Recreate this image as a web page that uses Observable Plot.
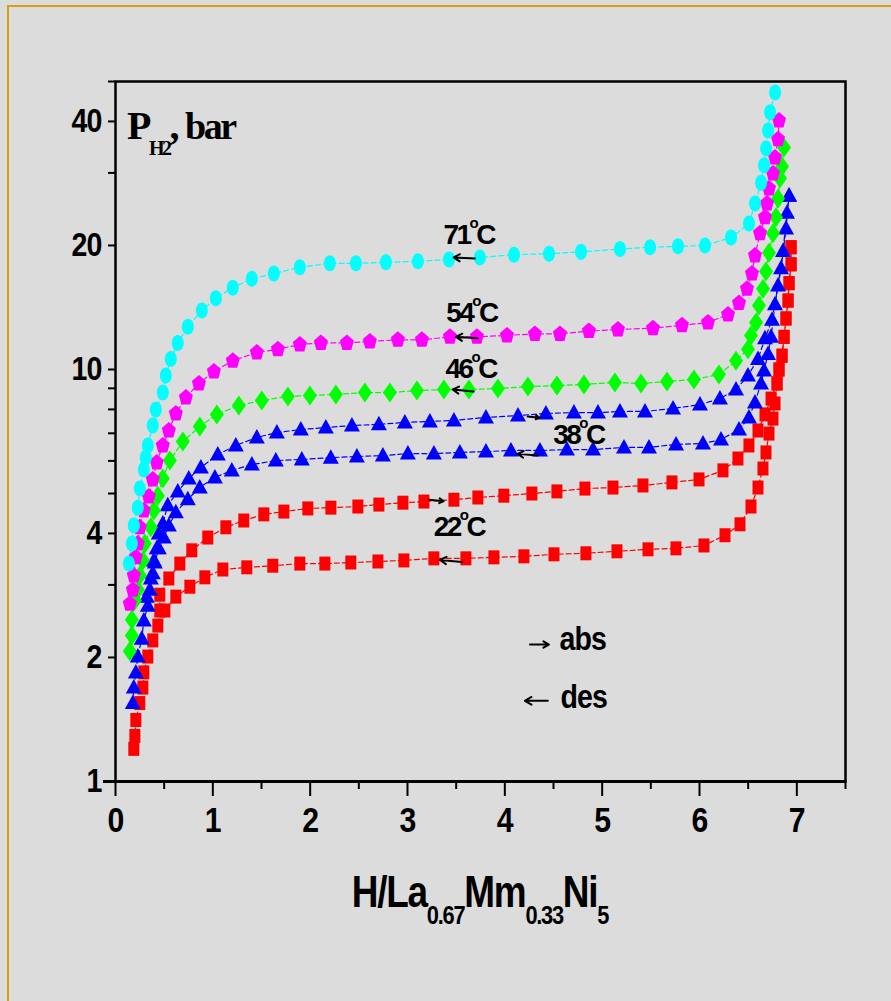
<!DOCTYPE html>
<html>
<head>
<meta charset="utf-8">
<script src="https://cdn.jsdelivr.net/npm/d3@7"></script>
<script src="https://cdn.jsdelivr.net/npm/@observablehq/plot@0.6"></script>
<style>
  html, body { margin: 0; padding: 0; }
  body { background: #dcdcdc; width: 891px; height: 1001px; overflow: hidden; position: relative; }
  #frame { position: absolute; left: 7px; top: 5px; right: -10px; bottom: -10px;
           border-left: 2px solid #d4a017; border-top: 2px solid #d4a017; }
  #chart { position: absolute; left: 0; top: 0; }
</style>
</head>
<body>
<div id="frame"></div>
<div id="chart"></div>
<script>
// ---------- data (H/La0.67Mm0.33Ni5 vs P_H2 in bar) ----------
const x71 = [0.137,0.168,0.188,0.229,0.250,0.291,0.311,0.332,0.383,0.414,0.486,0.517,0.568,0.640,0.743,0.887,1.031,1.205,1.401,1.627,1.894,2.202,2.470,2.778,3.107,3.426,3.744,4.094,4.454,4.783,5.183,5.492,5.779,6.057,6.324,6.509,6.571,6.633,6.663,6.684,6.705,6.725,6.777];
const p71 = [3.38,3.78,4.18,4.62,5.14,5.72,6.11,6.54,7.31,8.00,8.79,9.67,10.6,11.6,12.7,13.9,14.9,15.8,16.6,17.1,17.7,18.1,18.1,18.2,18.3,18.5,18.7,19.0,19.1,19.3,19.6,19.8,19.9,20.0,20.9,22.6,25.3,28.4,31.3,34.4,38.0,42.1,47.0];

const x54 = [0.147,0.178,0.188,0.209,0.229,0.250,0.291,0.342,0.383,0.424,0.486,0.548,0.620,0.723,0.857,1.011,1.205,1.452,1.668,1.894,2.110,2.377,2.613,2.901,3.148,3.436,3.713,4.022,4.309,4.566,4.864,5.162,5.522,5.820,6.087,6.293,6.406,6.488,6.539,6.570,6.622,6.673,6.694,6.714,6.755,6.776,6.807,6.817];
const p54 = [2.70,2.92,3.16,3.50,3.78,4.14,4.55,4.92,5.41,5.95,6.54,7.11,7.82,8.55,9.25,9.89,10.5,11.0,11.2,11.5,11.6,11.6,11.7,11.8,11.8,12.0,12.0,12.1,12.2,12.2,12.4,12.5,12.6,12.8,13.0,13.6,14.5,15.7,17.1,18.9,21.4,23.4,25.3,27.5,29.9,32.7,36.2,40.2];

const x46 = [0.147,0.168,0.168,0.199,0.229,0.250,0.281,0.301,0.363,0.394,0.435,0.486,0.558,0.692,0.866,1.041,1.267,1.503,1.771,1.997,2.264,2.562,2.819,3.097,3.374,3.631,3.929,4.237,4.535,4.813,5.131,5.399,5.666,5.943,6.200,6.375,6.498,6.529,6.581,6.611,6.653,6.683,6.714,6.755,6.786,6.807,6.827,6.848,6.868];
const p46 = [2.07,2.26,2.47,2.75,2.92,3.16,3.44,3.78,4.14,4.55,4.94,5.44,6.01,6.69,7.27,7.78,8.18,8.41,8.60,8.65,8.70,8.79,8.79,8.89,8.94,8.94,8.99,9.09,9.14,9.20,9.30,9.25,9.35,9.46,9.72,10.5,11.2,12.1,13.0,14.3,15.7,17.3,19.2,21.4,23.4,26.0,29.1,31.1,34.6];

const x38abs = [0.178,0.188,0.209,0.229,0.270,0.291,0.332,0.353,0.383,0.394,0.424,0.445,0.486,0.537,0.640,0.753,0.877,1.051,1.236,1.452,1.658,1.904,2.161,2.429,2.706,2.973,3.230,3.477,3.806,4.135,4.422,4.710,4.957,5.183,5.440,5.728,6.005,6.210,6.375,6.498,6.601,6.673,6.745,6.807,6.858,6.899,6.920];
const p38abs = [1.55,1.69,1.84,2.01,2.22,2.46,2.67,2.92,3.20,3.44,3.68,4.00,4.23,4.68,5.06,5.44,5.78,6.22,6.54,6.84,7.03,7.15,7.23,7.31,7.36,7.44,7.48,7.52,7.65,7.73,7.82,7.86,7.86,7.91,7.91,8.04,8.22,8.50,8.94,9.67,10.6,11.9,13.2,16.0,19.4,24.0,26.4];

const x38des = [0.322,0.363,0.404,0.445,0.496,0.548,0.620,0.743,0.866,1.021,1.195,1.401,1.647,1.914,2.212,2.480,2.747,3.004,3.271,3.538,3.806,4.063,4.361,4.638,4.906,5.224,5.481,5.759,6.036,6.221,6.406,6.508,6.570,6.632,6.663,6.704,6.735,6.776,6.838,6.889,6.920];
const p38des = [2.81,3.11,3.40,3.68,3.91,4.18,4.50,4.84,5.17,5.47,5.69,5.88,6.01,6.05,6.11,6.15,6.18,6.25,6.25,6.29,6.32,6.36,6.36,6.39,6.39,6.47,6.47,6.58,6.61,6.76,7.15,7.65,8.32,9.25,9.95,10.9,12.0,14.4,17.6,22.0,26.4];

const x22abs = [0.188,0.199,0.209,0.250,0.281,0.291,0.332,0.383,0.435,0.455,0.455,0.548,0.661,0.784,0.948,1.134,1.318,1.524,1.730,1.976,2.213,2.490,2.706,2.953,3.169,3.477,3.723,3.990,4.278,4.535,4.823,5.111,5.419,5.717,5.995,6.241,6.395,6.508,6.601,6.673,6.735,6.797,6.817,6.848,6.869,6.889,6.910,6.920,6.941,6.941];
const p22abs = [1.20,1.29,1.41,1.55,1.69,1.84,2.01,2.20,2.39,2.60,2.84,3.11,3.38,3.64,3.91,4.14,4.30,4.45,4.52,4.60,4.62,4.65,4.70,4.75,4.78,4.83,4.89,4.94,5.00,5.06,5.14,5.17,5.23,5.32,5.41,5.69,6.08,6.54,7.11,7.78,8.50,9.25,10.0,10.8,12.0,13.3,14.7,16.2,18.0,19.8];

const x22des = [0.507,0.620,0.764,0.918,1.103,1.349,1.616,1.894,2.151,2.418,2.696,2.963,3.271,3.600,3.888,4.196,4.505,4.833,5.152,5.471,5.758,6.046,6.262,6.416,6.529,6.601,6.652,6.683,6.714,6.755,6.776,6.797,6.817,6.848,6.869,6.889,6.910,6.920,6.941,6.941];
const p22des = [2.60,2.81,2.97,3.13,3.27,3.31,3.34,3.38,3.38,3.40,3.42,3.44,3.48,3.48,3.50,3.52,3.56,3.58,3.62,3.66,3.68,3.74,3.96,4.21,4.65,5.17,5.75,6.29,6.99,7.60,8.27,9.25,10.0,10.8,12.0,13.3,14.7,16.2,18.0,19.8];

// axis ticks
const xMajorTicks = [0,1,2,3,4,5,6,7];
const xMinorTicks = [0.5,1.5,2.5,3.5,4.5,5.5,6.5,7.5];
const yMajorTicks = [1,2,4,10,20,40];
const yMinorTicks = [3,5,6,7,8,9,30,50];

// temperature labels (anchor = start of text, baseline), in data units
const tempLabels = ["71","54","46","38","22"];
const tempLabelX = [3.374,3.402,3.395,4.502,3.274];
const tempLabelP = [20.1,13.0,9.49,6.58,3.93];

// direction arrows on curves (abs → right, des ← left)
const arrowX1 = [3.693,3.720,3.679,4.234,4.337,3.223,3.559];
const arrowP1 = [18.6,11.9,8.84,7.69,6.18,4.83,3.41];
const arrowX2 = [3.474,3.497,3.464,4.354,4.132,3.371,3.333];
const arrowP2 = [18.7,12.0,8.94,7.64,6.24,4.79,3.45];

// legend
const legendLabels = ["abs","des"];
const legendArrowX1 = [4.258,4.442];
const legendArrowX2 = [4.453,4.206];
const legendArrowP = [2.15,1.57];
const legendTextX = [4.566,4.577];
const legendTextP = [2.08,1.50];

// ---------- symbols ----------
const ellipseSym = {draw(ctx){ const rx=6, ry=8, k=0.5523;
  ctx.moveTo(rx,0);
  ctx.bezierCurveTo(rx, ry*k, rx*k, ry, 0, ry);
  ctx.bezierCurveTo(-rx*k, ry, -rx, ry*k, -rx, 0);
  ctx.bezierCurveTo(-rx, -ry*k, -rx*k, -ry, 0, -ry);
  ctx.bezierCurveTo(rx*k, -ry, rx, -ry*k, rx, 0);
  ctx.closePath(); }};
const pentagonSym = {draw(ctx){
  ctx.moveTo(0,-8.5); ctx.lineTo(7,-2.5); ctx.lineTo(4.5,7); ctx.lineTo(-4.5,7); ctx.lineTo(-7,-2.5); ctx.closePath(); }};
const diamondSym = {draw(ctx){
  ctx.moveTo(0,-10); ctx.lineTo(7,0); ctx.lineTo(0,10); ctx.lineTo(-7,0); ctx.closePath(); }};
const triangleSym = {draw(ctx){
  ctx.moveTo(0,-8.5); ctx.lineTo(8,6); ctx.lineTo(-8,6); ctx.closePath(); }};
const rectSym = {draw(ctx){ ctx.rect(-5.5,-7,11,14); }};

const series = [
  {xs:x22abs, ps:p22abs, color:"#ff0000", sym:rectSym},
  {xs:x22des, ps:p22des, color:"#ff0000", sym:rectSym},
  {xs:x38abs, ps:p38abs, color:"#0000ff", sym:triangleSym},
  {xs:x38des, ps:p38des, color:"#0000ff", sym:triangleSym},
  {xs:x46, ps:p46, color:"#00ff00", sym:diamondSym},
  {xs:x54, ps:p54, color:"#ff00ff", sym:pentagonSym},
  {xs:x71, ps:p71, color:"#00ffff", sym:ellipseSym}
];

const sansB = "'Liberation Sans', Arial, Helvetica, sans-serif";

const marks = [];
marks.push(Plot.axisX(xMajorTicks, {tickSize: 15, tickPadding: 10, fontSize: 36, fontWeight: "bold", fontFamily: sansB, strokeWidth: 2, label: null, tickFormat: d => String(d)}));
marks.push(Plot.axisX(xMinorTicks, {tickSize: 8, strokeWidth: 2, label: null, tickFormat: () => ""}));
marks.push(Plot.axisY(yMajorTicks, {tickSize: 7, tickPadding: 7, fontSize: 34, fontWeight: "bold", fontFamily: sansB, strokeWidth: 2, label: null, tickFormat: d => String(d)}));
marks.push(Plot.axisY(yMinorTicks, {tickSize: 7, strokeWidth: 2, label: null, tickFormat: () => ""}));
marks.push(Plot.axisY([1], {tickSize: 12, strokeWidth: 3, label: null, tickFormat: () => ""}));
marks.push(Plot.frame({stroke: "black", strokeWidth: 2.5}));
marks.push(Plot.ruleY([1], {stroke: "black", strokeWidth: 3}));

for (const s of series) {
  const rows = s.xs.map((x, i) => ({x, p: s.ps[i]}));
  marks.push(Plot.line(rows, {x: "x", y: "p", stroke: s.color, strokeWidth: 1.2, strokeDasharray: "5,3"}));
}
for (const s of series) {
  const rows = s.xs.map((x, i) => ({x, p: s.ps[i]}));
  marks.push(Plot.dot(rows, {x: "x", y: "p", fill: s.color, stroke: "none", symbol: s.sym, r: 5}));
}

const arrowRows = arrowX1.map((x1, i) => ({x1, y1: arrowP1[i], x2: arrowX2[i], y2: arrowP2[i]}));
marks.push(Plot.arrow(arrowRows, {x1: "x1", y1: "y1", x2: "x2", y2: "y2", stroke: "black", strokeWidth: 2, headLength: 7}));
const legendArrowRows = legendArrowX1.map((x1, i) => ({x1, x2: legendArrowX2[i], y: legendArrowP[i]}));
marks.push(Plot.arrow(legendArrowRows, {x1: "x1", y1: "y", x2: "x2", y2: "y", stroke: "black", strokeWidth: 2, headLength: 7}));

const plot = Plot.plot({
  width: 891, height: 1001,
  marginLeft: 115, marginRight: 46, marginTop: 81, marginBottom: 220,
  style: {background: "transparent", overflow: "visible"},
  x: {domain: [0, 7.5]},
  y: {type: "log", domain: [1, 50]},
  marks
});
document.getElementById("chart").appendChild(plot);

// ---------- text post-processing ----------
const X = plot.scale("x"), Y = plot.scale("y");
const svg = d3.select(plot);

// horizontally condense a text around its own anchor point (Arial-Narrow look)
function condense(sel, k) {
  sel.each(function () {
    const t = d3.select(this);
    const tr = t.attr("transform");
    if (tr) {
      t.attr("transform", `${tr} scale(${k},1)`);
    } else {
      const x = +t.attr("x") || 0, y = +t.attr("y") || 0;
      t.attr("x", null).attr("y", null)
       .attr("transform", `translate(${x},${y}) scale(${k},1)`);
    }
  });
}
const tickTexts = svg.selectAll('g[aria-label="x-axis tick label"] text, g[aria-label="y-axis tick label"] text');
tickTexts.style("letter-spacing", "-1px");
condense(tickTexts, 0.84);

// temperature labels with superscript o
tempLabels.forEach((t, i) => {
  const tx = svg.append("text")
    .attr("x", X.apply(tempLabelX[i])).attr("y", Y.apply(tempLabelP[i]))
    .attr("text-anchor", "start")
    .attr("font-family", sansB)
    .attr("font-weight", "bold").attr("font-size", 28)
    .style("letter-spacing", "-2.5px").attr("fill", "black");
  tx.append("tspan").text(t);
  tx.append("tspan").attr("font-size", 15).attr("dy", -16).text("o");
  tx.append("tspan").attr("dy", 16).text("C");
});

// legend labels
legendLabels.forEach((t, i) => {
  const lt = svg.append("text")
    .attr("x", X.apply(legendTextX[i])).attr("y", Y.apply(legendTextP[i]))
    .attr("text-anchor", "start")
    .attr("font-family", sansB).attr("font-weight", "bold").attr("font-size", 34)
    .style("letter-spacing", "-1px").attr("fill", "black").text(t);
  condense(lt, 0.84);
});

// y label P_H2, bar
const yl = svg.append("text")
  .attr("x", X.apply(0) + 12).attr("y", Y.apply(50) + 58)
  .attr("text-anchor", "start")
  .attr("font-family", "'Liberation Serif', 'Times New Roman', serif")
  .attr("font-weight", "bold").attr("font-size", 40)
  .style("letter-spacing", "-2.5px").attr("fill", "black");
yl.append("tspan").text("P");
yl.append("tspan").attr("font-size", 20).attr("dy", 16).text("H2");
yl.append("tspan").attr("dy", -16).text(",");
yl.append("tspan").attr("font-size", 38).attr("dx", 8).text("bar");

// x label H/La0.67Mm0.33Ni5
const xl = svg.append("text")
  .attr("x", (X.apply(0) + X.apply(7.5)) / 2).attr("y", Y.apply(1) + 126)
  .attr("text-anchor", "middle")
  .attr("font-family", sansB).attr("font-weight", "bold").attr("font-size", 44)
  .style("letter-spacing", "-1.5px").attr("fill", "black");
xl.append("tspan").text("H/La");
xl.append("tspan").attr("font-size", 26).attr("dy", 17).text("0.67");
xl.append("tspan").attr("dy", -17).text("Mm");
xl.append("tspan").attr("font-size", 26).attr("dy", 17).text("0.33");
xl.append("tspan").attr("dy", -17).text("Ni");
xl.append("tspan").attr("font-size", 26).attr("dy", 17).text("5");
condense(xl, 0.84);
</script>
</body>
</html>
